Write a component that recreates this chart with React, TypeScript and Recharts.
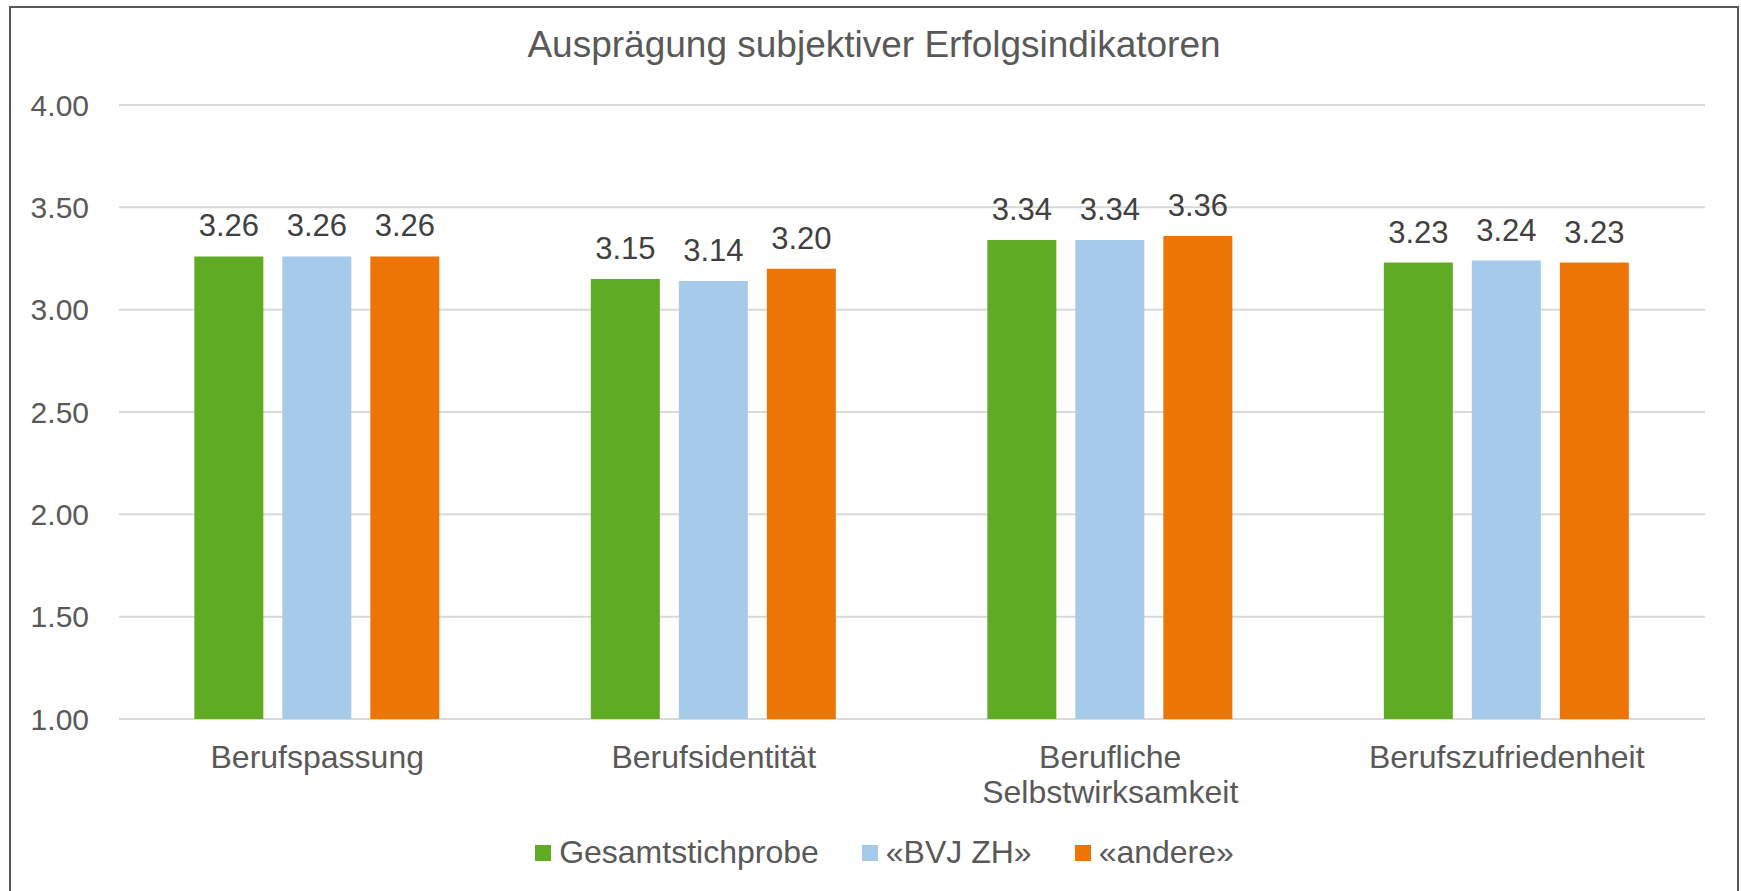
import React from "react";
import {Bar, BarChart, CartesianGrid, LabelList, Legend, XAxis, YAxis} from "recharts";

const categories = ["Berufspassung", "Berufsidentität", "Berufliche Selbstwirksamkeit", "Berufszufriedenheit"];
const gesamtstichprobe = [3.26, 3.15, 3.34, 3.23];
const bvjZh = [3.26, 3.14, 3.34, 3.24];
const andere = [3.26, 3.2, 3.36, 3.23];
const yTicks = [1, 1.5, 2, 2.5, 3, 3.5, 4];

const series = [
    {key: "gesamt", name: "Gesamtstichprobe", color: "#60AB24"},
    {key: "bvj", name: "«BVJ ZH»", color: "#A6CAEA"},
    {key: "andere", name: "«andere»", color: "#EC7506"},
];

const data = categories.map((name, i) => ({
    name,
    gesamt: gesamtstichprobe[i],
    bvj: bvjZh[i],
    andere: andere[i],
}));

const FONT = "Arial, 'Liberation Sans', sans-serif";
const TEXT = "#595959";

// long names (more than 20 chars) break at the spaces, like in the original
const CategoryTick = ({x, y, payload}: any) => {
    const label: string = payload.value;
    const lines = label.length > 20 ? label.split(" ") : [label];
    return (
        <text x={x} y={y} textAnchor="middle" fill={TEXT} fontSize={32} fontFamily={FONT}>
            {lines.map((line, i) => (
                <tspan key={i} x={x} dy={i === 0 ? 23 : 35}>{line}</tspan>
            ))}
        </text>
    );
};

const LegendContent = () => (
    <div style={{display: "flex", justifyContent: "center", alignItems: "center", fontFamily: FONT, fontSize: 32, color: TEXT}}>
        {series.map((s, i) => (
            <div key={s.key} style={{display: "flex", alignItems: "center", marginLeft: i === 0 ? 0 : 43}}>
                <span style={{width: 16, height: 16, background: s.color, marginRight: 8, display: "inline-block"}}/>
                <span>{s.name}</span>
            </div>
        ))}
    </div>
);

export default function App() {
    return (
        <div style={{position: "absolute", left: 0, top: 0, width: 1741, height: 891, background: "#fff", overflow: "hidden"}}>
            <div style={{position: "absolute", left: 9, top: 6, width: 1726, height: 900, border: "2px solid #595959"}}/>
            <div style={{position: "absolute", left: 10, width: 1728, top: 24, textAlign: "center", fontFamily: FONT, fontSize: 37, color: TEXT}}>
                Ausprägung subjektiver Erfolgsindikatoren
            </div>
            <div style={{position: "absolute", left: 0, top: 0}}>
                <BarChart width={1741}
                          height={891}
                          data={data}
                          margin={{top: 105, right: 36, bottom: 72, left: 19}}
                          barCategoryGap="19%"
                          barGap={19}
                >
                    <CartesianGrid vertical={false} stroke="#D9D9D9" strokeWidth={2}/>
                    <XAxis dataKey="name"
                           height={100}
                           axisLine={false}
                           tickLine={false}
                           tickSize={0}
                           tickMargin={26}
                           interval={0}
                           tick={<CategoryTick/>}
                    />
                    <YAxis domain={[1, 4]}
                           ticks={yTicks}
                           width={100}
                           axisLine={false}
                           tickLine={false}
                           tickSize={0}
                           tickMargin={30}
                           tickFormatter={(v: number) => v.toFixed(2)}
                           tick={{fill: TEXT, fontSize: 30, fontFamily: FONT}}
                    />
                    <Legend verticalAlign="middle"
                            align="center"
                            content={<LegendContent/>}
                            wrapperStyle={{top: 834, left: 14, width: 1741}}
                    />
                    {series.map(s => (
                        <Bar key={s.key}
                             dataKey={s.key}
                             name={s.name}
                             fill={s.color}
                             isAnimationActive={false}
                        >
                            <LabelList dataKey={s.key}
                                       position="top"
                                       offset={20}
                                       formatter={(v: any) => Number(v).toFixed(2)}
                                       fill="#404040"
                                       fontSize={31}
                                       fontFamily={FONT}
                            />
                        </Bar>
                    ))}
                </BarChart>
            </div>
        </div>
    );
}
